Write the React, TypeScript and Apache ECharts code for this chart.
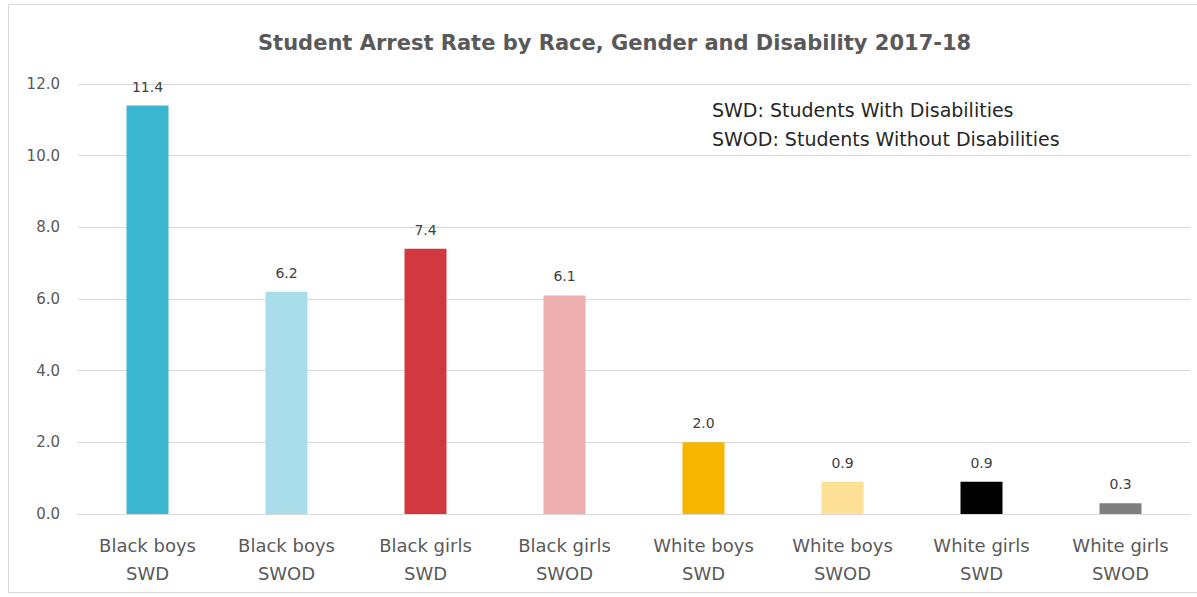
import React, { useEffect, useRef } from "react";
import * as echarts from "echarts";

const categories = [
  "Black boys\nSWD",
  "Black boys\nSWOD",
  "Black girls\nSWD",
  "Black girls\nSWOD",
  "White boys\nSWD",
  "White boys\nSWOD",
  "White girls\nSWD",
  "White girls\nSWOD",
];
const values = [11.4, 6.2, 7.4, 6.1, 2.0, 0.9, 0.9, 0.3];
const barColors = [
  "#3BB6D1",
  "#A9DDE9",
  "#D2383F",
  "#ECAEAF",
  "#F8B500",
  "#FDDF95",
  "#000000",
  "#7F7F7F",
];
const titleText = "Student Arrest Rate by Race, Gender and Disability 2017-18";
const noteLines = ["SWD: Students With Disabilities", "SWOD: Students Without Disabilities"];

export default function App() {
  const ref = useRef<HTMLDivElement>(null);
  useEffect(() => {
    if (!ref.current) return;
    const chart = echarts.init(ref.current, null, { renderer: "svg" });
    const font = "'DejaVu Sans', sans-serif";
    chart.setOption({
      animation: false,
      backgroundColor: "#ffffff",
      title: {
        text: titleText,
        left: 253,
        top: 27,
        textStyle: { fontFamily: font, fontSize: 21, fontWeight: "bold", color: "#595959" },
      },
      graphic: [
        {
          type: "rect",
          shape: { x: 0, y: 0, width: 1200, height: 588 },
          x: 8.5,
          y: 4.5,
          style: { fill: "none", stroke: "#D9D9D9", lineWidth: 1 },
          silent: true,
        },
        {
          type: "text",
          left: 712,
          top: 95,
          style: {
            text: noteLines.join("\n"),
            font: `19px ${font}`,
            lineHeight: 29,
            fill: "#262626",
          },
        },
      ],
      grid: { left: 78, right: 7, top: 84, bottom: 83, containLabel: false },
      xAxis: {
        type: "category",
        data: categories,
        axisLine: { show: true, lineStyle: { color: "#D9D9D9" } },
        axisTick: { show: false },
        axisLabel: {
          fontFamily: font,
          fontSize: 18,
          lineHeight: 28,
          color: "#595959",
          margin: 17,
          interval: 0,
        },
      },
      yAxis: {
        type: "value",
        min: 0,
        max: 12,
        interval: 2,
        axisLine: { show: false },
        axisTick: { show: false },
        splitLine: { lineStyle: { color: "#D9D9D9" } },
        axisLabel: {
          fontFamily: font,
          fontSize: 15,
          color: "#595959",
          margin: 18,
          formatter: (v: number) => v.toFixed(1),
        },
      },
      series: [
        {
          type: "bar",
          barWidth: 42,
          data: values.map((v, i) => ({ value: v, itemStyle: { color: barColors[i] } })),
          label: {
            show: true,
            position: "top",
            distance: 12,
            fontFamily: font,
            fontSize: 14,
            color: "#404040",
            formatter: (p: any) => Number(p.value).toFixed(1),
          },
        },
      ],
    });
    return () => chart.dispose();
  }, []);
  return (
    <div
      ref={ref}
      style={{ position: "absolute", left: 0, top: 0, width: 1197, height: 597 }}
    />
  );
}
